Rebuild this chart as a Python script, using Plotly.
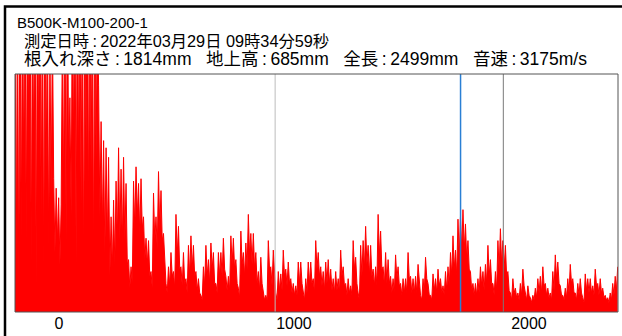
import plotly.graph_objects as go

# ---- data (amplitude samples; 0..100 = plot height, >100 clipped) ----
x_start_mm = -187.0
sample_step_mm = 5.31

amp_near = [
    130, 20, 140, 8, 150, 30,
    140, 60, 150, 30, 140, 80, 160, 20, 130, 70,
    150, 10,
    150, 70, 160, 40, 140, 15, 150, 60, 130, 25, 110, 50, 120,
    56, 25, 52, 30, 48, 20, 45,
    120, 50, 140, 30, 150, 60, 90, 40, 140, 70, 150, 20, 160, 60, 140, 45, 150, 15,
    140, 70, 160, 40, 150, 60, 140, 20, 150, 65, 130,
    95, 40, 80, 35, 72, 25,
    69, 30, 65, 15,
    40, 18, 47, 20, 55, 30, 69, 30, 60, 28,
    65, 30, 54, 20, 22, 10,
]

amp_far = [
    19, 12, 55, 35, 61, 40, 54, 32,
    56, 35, 40, 22, 31, 20, 30, 15,
    17, 10, 50, 30, 40, 26, 59, 35,
    51, 30, 33, 18, 12, 8, 19, 11,
    25, 15, 17, 10, 41, 24, 36, 18,
    19, 11, 25, 12, 14, 8, 28, 15,
    32, 18, 28, 15, 17, 9, 14, 8,
    7, 5, 19, 11, 28, 15, 22, 12,
    29, 18, 25, 12, 12, 8, 25, 15,
    25, 15, 31, 18, 15, 9, 15, 9,
    32, 20, 31, 18, 22, 12, 10, 6,
    34, 20, 25, 15, 29, 18, 41, 24,
    33, 20, 33, 18, 25, 12, 17, 9,
    23, 12, 8, 5, 7, 5, 30, 18,
    19, 11, 26, 15, 8, 5, 17, 9,
    16, 9, 26, 15, 18, 11, 21, 12,
    14, 8, 12, 7, 11, 7, 21, 12,
    21, 12, 8, 5, 14, 8, 21, 12,
    21, 12, 14, 8, 30, 18, 25, 15,
    19, 11, 17, 9, 21, 12, 22, 12,
    18, 9, 14, 8, 17, 9, 14, 8,
    26, 15, 19, 11, 12, 7, 14, 8,
    11, 7, 30, 18, 23, 12, 8, 5,
    28, 15, 30, 18, 36, 20, 28, 15,
    28, 15, 18, 11, 19, 11, 41, 24,
    34, 18, 19, 11, 25, 12, 22, 12,
    15, 8, 14, 8, 24, 14, 19, 11,
    12, 7, 14, 8, 14, 8, 25, 14,
    15, 8, 14, 8, 15, 8, 20, 11,
    7, 5, 14, 8, 23, 14, 12, 7,
    7, 5, 16, 9, 14, 8, 18, 11,
    14, 8, 11, 7, 17, 9, 19, 11,
    25, 15, 32, 18, 26, 15, 39, 24,
    40, 26, 43, 26, 37, 22, 30, 18,
    17, 9, 12, 7, 12, 7, 14, 8,
    19, 11, 17, 9, 20, 12, 28, 15,
    22, 12, 12, 7, 17, 9, 30, 18,
    35, 20, 30, 18, 28, 15, 17, 9,
    8, 5, 14, 8, 10, 6, 8, 5,
    12, 7, 18, 11, 8, 5, 11, 7,
    6, 4, 7, 5, 10, 6, 14, 8,
    15, 8, 19, 11, 12, 7, 10, 6,
    8, 5, 17, 9, 24, 14, 21, 12,
    11, 7, 7, 5, 10, 6, 14, 8,
    20, 12, 14, 8, 8, 5, 12, 7,
    14, 8, 6, 4, 16, 9, 14, 8,
    14, 8, 11, 7, 18, 11, 12, 7,
    14, 8, 10, 6, 7, 5, 6, 4,
    8, 5, 12, 7, 15, 9, 19,
]

x_range = [-187, 2379]
y_range = [0, 100]
tick_values = [0, 1000, 2000]
tick_labels = ["0", "1000", "2000"]
marker_light_mm = 920
marker_blue_mm = 1709
marker_dark_mm = 1891

NB = "\u00a0"
C = "\u2009:\u2009"
title_lines = [
    "B500K-M100-200-1",
    "測定日時" + C + "2022年03月29日" + NB + "09時34分59秒",
    "根入れ深さ" + C + "1814mm" + NB * 3 + "地上高" + C + "685mm" + NB * 3
    + "全長" + C + "2499mm" + NB * 3 + "音速" + C + "3175m/s",
]
title_sizes = [15, 16.3, 17.5]

amplitude = amp_near + amp_far
x_mm = [x_start_mm + sample_step_mm * i for i in range(len(amplitude))]

FONT = "Liberation Sans, Arial, Noto Sans CJK JP, sans-serif"

fig = go.Figure()
fig.add_trace(go.Scatter(
    x=x_mm, y=amplitude, mode="lines",
    line=dict(color="#ff0000", width=1),
    fill="tozeroy", fillcolor="#ff0000",
    hoverinfo="skip", showlegend=False,
))

shapes = [
    dict(type="line", xref="x", yref="paper", x0=marker_light_mm, x1=marker_light_mm,
         y0=0, y1=1, line=dict(color="#bdbdbd", width=1)),
    dict(type="line", xref="x", yref="paper", x0=marker_dark_mm, x1=marker_dark_mm,
         y0=0, y1=1, line=dict(color="#7a7a7a", width=1)),
    dict(type="line", xref="x", yref="paper", x0=marker_blue_mm, x1=marker_blue_mm,
         y0=0, y1=1, line=dict(color="#2a7fd4", width=1.5)),
    dict(type="rect", xref="paper", yref="paper", x0=0, x1=1, y0=0, y1=1,
         line=dict(color="#555555", width=1)),
    dict(type="rect", xref="paper", yref="paper", x0=-10 / 603, x1=1.1,
         y0=-0.2, y1=(317 - 5) / 243, line=dict(color="black", width=2.5)),
]

annotations = []
line_pos = [(15, 21), (22, 40), (22, 58.5)]
for text, (px, py), fs in zip(title_lines, line_pos, title_sizes):
    annotations.append(dict(
        text=text, xref="paper", yref="paper",
        x=(px - 15) / 603, y=(317 - py) / 243,
        xanchor="left", yanchor="middle", showarrow=False,
        font=dict(family=FONT, size=fs, color="black"),
    ))

fig.update_layout(
    width=622, height=336,
    margin=dict(l=15, r=4, t=74, b=19),
    paper_bgcolor="white", plot_bgcolor="white",
    shapes=shapes, annotations=annotations,
    xaxis=dict(range=x_range, tickvals=tick_values, ticktext=tick_labels,
               showgrid=False, zeroline=False, ticks="", showline=False,
               tickfont=dict(family=FONT, size=16, color="black")),
    yaxis=dict(range=y_range, showgrid=False, zeroline=False,
               showticklabels=False, ticks="", showline=False),
)

fig.write_html("out.html")
